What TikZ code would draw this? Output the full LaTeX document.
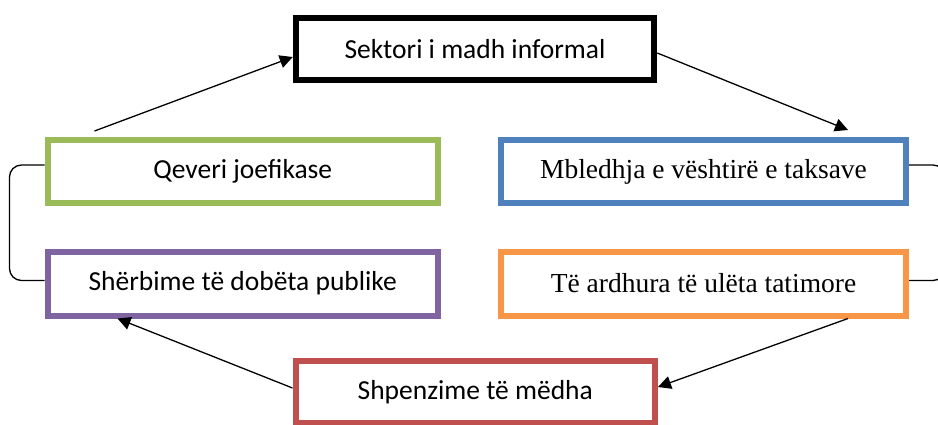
\documentclass[tikz,border=0pt]{standalone}
\usepackage{fontspec}
\usepackage{tikz}
\usepackage{xcolor}
\usetikzlibrary{calc}
\usetikzlibrary{arrows.meta}
\setmainfont{Carlito}
\newfontfamily\serifshkronja{Liberation Serif}
\definecolor{gjelber}{HTML}{9BBB59}
\definecolor{blu}{HTML}{4F81BD}
\definecolor{vjollce}{HTML}{8064A2}
\definecolor{portokalli}{HTML}{F79646}
\definecolor{kuq}{HTML}{C0504D}

\begin{document}
\begin{tikzpicture}[x=1pt, y=-1pt,
    kuti/.style={draw, line width=6pt, fill=white, inner sep=0pt,
      minimum height=63pt, font=\fontsize{27.5}{33}\selectfont},
    shigjete/.style={-{Triangle[length=13pt,width=13pt]}, line width=1.3pt},
    kllape/.style={line width=1.3pt, rounded corners=12pt}]
      \clip (0,0) rectangle (938,424);

      % kutite
      \node[kuti, draw=black, minimum width=358.5pt, minimum height=62.5pt] (sektor) at (475,49) {Sektori i madh informal};
      \node[kuti, draw=gjelber,  minimum width=390.5pt] (qeveri)   at (242.75,171.5) {Qeveri joefikase};
      \node[kuti, draw=vjollce,  minimum width=390.5pt, minimum height=64pt] (sherbime) at (242.75,283.5) {Shërbime të dobëta publike};
      \node[kuti, draw=blu,      minimum width=405pt, font=\fontsize{27.5}{33}\serifshkronja] (mbledhja) at (703.5,171.5) {Mbledhja e vështirë e taksave};
      \node[kuti, draw=portokalli, minimum width=405pt, minimum height=64pt, font=\fontsize{27.5}{33}\serifshkronja] (ardhura) at (703.5,283.5) {Të ardhura të ulëta tatimore};
      \node[kuti, draw=kuq, minimum width=359.5pt, minimum height=62pt] (shpenzime) at (475.25,392) {Shpenzime të mëdha};

      % shigjetat
      \coordinate (nisja) at ($(qeveri.north west)+(50,-6)$);
      \draw[shigjete] (nisja) -- ($(sektor.west)+(0,8)$);
      \draw[shigjete] ($(sektor.east)+(0,4)$) -- ($(mbledhja.north east)+(-61,-7)$);
      \draw[shigjete] ($(ardhura.south east)+(-61,0)$) -- ($(shpenzime.east)+(0,-5)$);
      \draw[shigjete] ($(shpenzime.west)+(0,-4)$) -- ($(sherbime.south west)+(73,0)$);

      % kllapat anash
      \draw[kllape] ($(qeveri.west)+(0,-6.5)$) -- ++(-35,0) |- ($(sherbime.west)+(0,-3)$);
      \draw[kllape] ($(mbledhja.east)+(0,-6.5)$) -- ++(36,0) |- ($(ardhura.east)+(0,-3)$);
\end{tikzpicture}
\end{document}
